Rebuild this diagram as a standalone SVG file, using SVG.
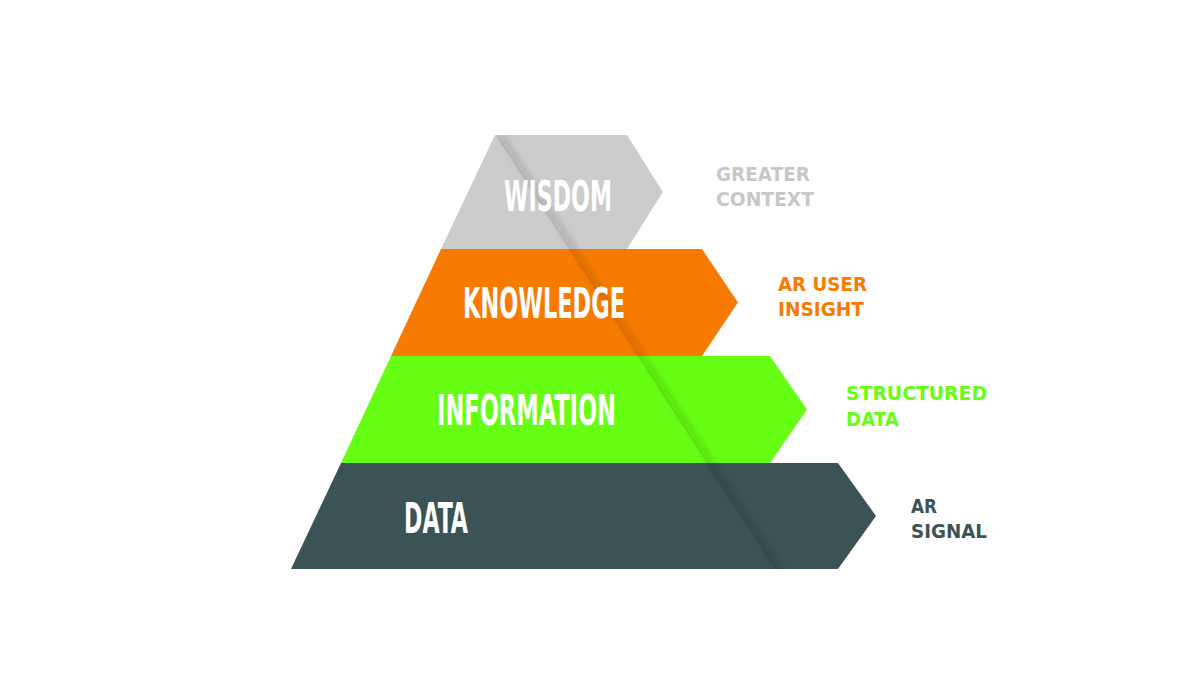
<svg xmlns="http://www.w3.org/2000/svg" width="1200" height="700" viewBox="0 0 1200 700">
  <defs>
    <style>
      .band-label { font-family: "DejaVu Sans Condensed", "Liberation Sans Narrow", "Liberation Sans", sans-serif; font-weight: bold; font-size: 43px; fill: #ffffff; }
      .side-label { font-family: "DejaVu Sans", "Liberation Sans", sans-serif; font-weight: bold; font-size: 19px; }
      .wisdom { fill: #cccccc; }
      .knowledge { fill: #f77b00; }
      .information { fill: #66ff13; }
      .data { fill: #3b5354; }
    </style>
    <clipPath id="pyramidClip">
      <polygon points="495,135 627,135 663,192 627,249 441,249"/>
      <polygon points="441,249 702,249 738,302.5 702,356 391,356"/>
      <polygon points="391,356 770,356 807,409.5 770,463 341,463"/>
      <polygon points="341,463 838,463 876,516 838,569 291,569"/>
    </clipPath>
    <filter id="soft" filterUnits="userSpaceOnUse" x="400" y="100" width="500" height="520">
      <feGaussianBlur stdDeviation="2.5"/>
    </filter>
  </defs>
  <rect width="1200" height="700" fill="#ffffff"/>

  <g id="node-wisdom">
    <polygon class="wisdom" points="495,135 627,135 663,192 627,249 441,249"/>
  </g>
  <g id="node-knowledge">
    <polygon class="knowledge" points="441,249 702,249 738,302.5 702,356 391,356"/>
  </g>
  <g id="node-information">
    <polygon class="information" points="391,356 770,356 807,409.5 770,463 341,463"/>
  </g>
  <g id="node-data">
    <polygon class="data" points="341,463 838,463 876,516 838,569 291,569"/>
  </g>

  <g id="fold" clip-path="url(#pyramidClip)">
    <path d="M 501,135 L 780,569" stroke="rgba(0,0,0,0.11)" stroke-width="7" fill="none" filter="url(#soft)"/>
    <path d="M 497,135 L 776,569" stroke="rgba(0,0,0,0.08)" stroke-width="1.5" fill="none"/>
  </g>

  <g id="labels">
    <text class="band-label" x="504" y="211" textLength="108" lengthAdjust="spacingAndGlyphs">WISDOM</text>
    <text class="band-label" x="463" y="318" textLength="162" lengthAdjust="spacingAndGlyphs">KNOWLEDGE</text>
    <text class="band-label" x="437" y="425" textLength="179" lengthAdjust="spacingAndGlyphs">INFORMATION</text>
    <text class="band-label" x="404" y="533" textLength="64" lengthAdjust="spacingAndGlyphs">DATA</text>
  </g>

  <g id="side-greater-context" fill="#c8c8c8">
    <text class="side-label" x="716" y="181" textLength="94" lengthAdjust="spacingAndGlyphs">GREATER</text>
    <text class="side-label" x="716" y="206" textLength="98" lengthAdjust="spacingAndGlyphs">CONTEXT</text>
  </g>
  <g id="side-ar-user-insight" fill="#f77b00">
    <text class="side-label" x="778" y="291" textLength="89" lengthAdjust="spacingAndGlyphs">AR USER</text>
    <text class="side-label" x="778" y="316" textLength="86" lengthAdjust="spacingAndGlyphs">INSIGHT</text>
  </g>
  <g id="side-structured-data" fill="#66ff13">
    <text class="side-label" x="846" y="400" textLength="141" lengthAdjust="spacingAndGlyphs">STRUCTURED</text>
    <text class="side-label" x="846" y="426" textLength="53" lengthAdjust="spacingAndGlyphs">DATA</text>
  </g>
  <g id="side-ar-signal" fill="#3b5354">
    <text class="side-label" x="911" y="513" textLength="26" lengthAdjust="spacingAndGlyphs">AR</text>
    <text class="side-label" x="911" y="538" textLength="76" lengthAdjust="spacingAndGlyphs">SIGNAL</text>
  </g>
</svg>
